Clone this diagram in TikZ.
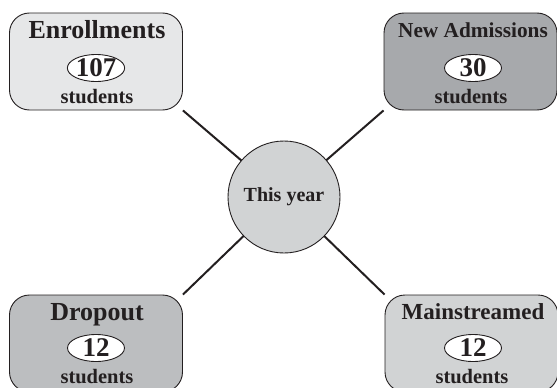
\documentclass[tikz,border=0pt]{standalone}
\usepackage{fontspec}
\setmainfont{Liberation Serif}
\usepackage{tikz}
\usetikzlibrary{shapes, backgrounds}
\tikzset{>=latex}
\definecolor{inkgray}{RGB}{35, 31, 32}
\definecolor{enrgray}{RGB}{230, 231, 232}
\definecolor{admgray}{RGB}{167, 169, 172}
\definecolor{dropgray}{RGB}{188, 190, 192}
\definecolor{maingray}{RGB}{209, 211, 212}
\tikzset{
  infobox/.style = {draw = inkgray, line width = 0.9, rounded corners = 20, minimum width = 173, minimum height = 97, inner sep = 0},
  boxtitle/.style = {text = inkgray, inner sep = 0, anchor = base, font = \bfseries\fontsize{#1}{#1}\selectfont},
  countoval/.style = {ellipse, draw = inkgray, line width = 0.9, fill = white, text = inkgray, minimum width = 57, minimum height = 27, inner sep = 0, font = \bfseries\fontsize{27}{27}\selectfont},
  unitlabel/.style = {text = inkgray, inner sep = 0, anchor = base, font = \bfseries\fontsize{20.5}{20.5}\selectfont},
  link/.style = {draw = inkgray, line width = 2}
}

\begin{document}
\begin{tikzpicture}[x = 1pt, y = -1pt]
\useasboundingbox (0,0) rectangle (557,388);

% centre
\node[circle, draw = inkgray, line width = 0.9, fill = maingray, minimum size = 112, inner sep = 0,
      text = inkgray, font = \bfseries\fontsize{20}{20}\selectfont] (hub) at (284, 197) {This year};

% top left
\node[infobox, fill = enrgray] (enr) at (96, 61.5) {};
\node[boxtitle = 26] (enrtitle) at (97, 38) {Enrollments};
\node[countoval] (enrcount) at (96, 68) {107};
\node[unitlabel] (enrunit) at (97, 103) {students};

% top right
\node[infobox, fill = admgray] (adm) at (470.5, 61.5) {};
\node[boxtitle = 21.3] (admtitle) at (473, 37) {New Admissions};
\node[countoval] (admcount) at (473, 68) {30};
\node[unitlabel] (admunit) at (471, 103) {students};

% bottom left
\node[infobox, fill = dropgray] (drop) at (96, 343.5) {};
\node[boxtitle = 26] (droptitle) at (97, 320) {Dropout};
\node[countoval] (dropcount) at (96, 348) {12};
\node[unitlabel] (dropunit) at (97, 383) {students};

% bottom right
\node[infobox, fill = maingray] (main) at (471.5, 343.5) {};
\node[boxtitle = 23] (maintitle) at (473, 319) {Mainstreamed};
\node[countoval] (maincount) at (473, 348) {12};
\node[unitlabel] (mainunit) at (472, 383) {students};

\begin{pgfonlayer}{background}
\draw[link] (hub.center) -- (enr.south east);
\draw[link] (hub.center) -- (adm.south west);
\draw[link] (hub.center) -- (drop.north east);
\draw[link] (hub.center) -- (main.north west);
\end{pgfonlayer}

\end{tikzpicture}
\end{document}
